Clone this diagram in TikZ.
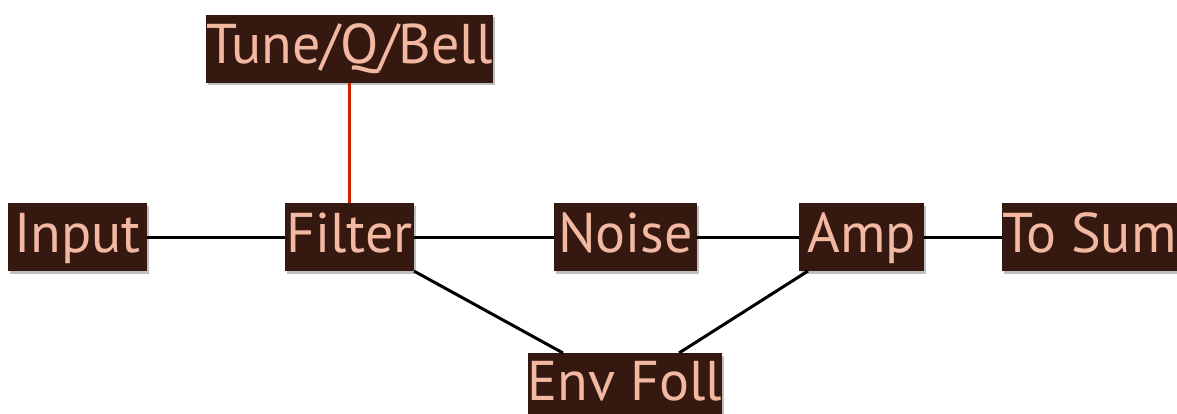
\documentclass[tikz,border=0pt]{standalone}
\usepackage{fontspec}
\setmainfont{PT Sans}
\usetikzlibrary{shadows}
\definecolor{boxfill}{HTML}{351911}
\definecolor{boxtext}{HTML}{F2B8A2}
\definecolor{redline}{HTML}{CC2200}
\begin{document}
\begin{tikzpicture}[x=1pt,y=-1pt,
  blk/.style={draw=none,fill=boxfill,text=boxtext,inner sep=0pt,
    minimum height=68pt,text height=45pt,text depth=15pt,
    font=\fontsize{56}{60}\selectfont,
    drop shadow={shadow xshift=1.5pt,shadow yshift=-2.5pt,opacity=0.25,fill=black}},
  wire/.style={line width=3pt,black},
  redwire/.style={line width=3pt,redline}]
\useasboundingbox (0,0) rectangle (1177,414);
\node[blk,minimum width=287pt] (tune) at (349.5,49) {Tune/Q/Bell};
\node[blk,minimum width=139pt] (input) at (77.5,237) {Input};
\node[blk,minimum width=129pt] (filter) at (349.5,237) {Filter};
\node[blk,minimum width=143pt] (noise) at (625.5,237) {Noise};
\node[blk,minimum width=125pt] (amp) at (861.5,237) {Amp};
\node[blk,minimum width=175pt] (tosum) at (1089.5,237) {To Sum};
\node[blk,minimum width=192pt,minimum height=61pt,text depth=12pt] (env) at (625,383.5) {Env Foll};
\coordinate (envl) at (563,353);
\coordinate (envr) at (679,353);
\coordinate (ampl) at (808,271);
\draw[redwire] (tune.south) -- (filter.north);
\draw[wire] (input.east) -- (filter.west);
\draw[wire] (filter.east) -- (noise.west);
\draw[wire] (noise.east) -- (amp.west);
\draw[wire] (amp.east) -- (tosum.west);
\draw[wire] (filter.south east) -- (envl);
\draw[wire] (ampl) -- (envr);
\end{tikzpicture}
\end{document}
